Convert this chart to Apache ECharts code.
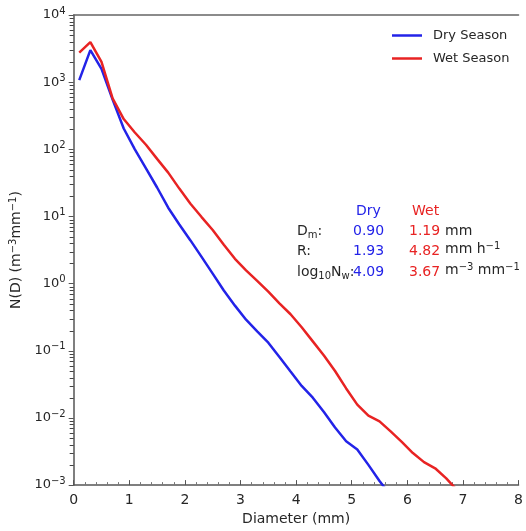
<!DOCTYPE html>
<html><head><meta charset="utf-8">
<script src="https://cdn.jsdelivr.net/npm/echarts@6/dist/echarts.min.js"></script>
<style>html,body{margin:0;padding:0;background:#fff}#c{width:526px;height:531px}</style>
</head><body><div id="c"></div>
<script>
const diameters = [0.1,0.3,0.5,0.7,0.9,1.1,1.3,1.5,1.7,1.9,2.1,2.3,2.5,2.7,2.9,3.1,3.3,3.5,3.7,3.9,4.1,4.3,4.5,4.7,4.9,5.1,5.3,5.5,5.7,5.9,6.1,6.3,6.5,6.7,6.9];
const drySeason = [1070,3000,1580,550,204,100,52,27,13.5,7.6,4.4,2.5,1.41,0.79,0.47,0.29,0.195,0.132,0.081,0.049,0.030,0.020,0.0123,0.0072,0.0045,0.0034,0.0020,0.00115,0.0007];
const wetSeason = [2750,3950,2000,575,282,178,117,72,45,26,15.5,9.8,6.3,3.8,2.34,1.58,1.10,0.76,0.51,0.35,0.224,0.138,0.085,0.050,0.0275,0.0158,0.0108,0.0089,0.0063,0.0044,0.0030,0.0022,0.00178,0.00126,0.00083];
const seriesNames = ['Dry Season','Wet Season'];
const yExp = {'0.001':'−3','0.01':'−2','0.1':'−1','1':'0','10':'1','100':'2','1000':'3','10000':'4'};
const yDecades = [0.001,0.01,0.1,1,10,100,1000];
const minorMultipliers = [2,3,4,5,6,7,8,9];
const stats = {labels:['D{sub|m}:','R:','log{sub|10}N{sub|w}:'], dry:['0.90','1.93','4.09'], wet:['1.19','4.82','3.67'], units:['mm','mm h{sup|−1}','m{sup|−3} mm{sup|−1}']};

const FONT = 'DejaVu Sans';
const BLUE = '#2323e8', RED = '#e82323', TXT = '#262626';
const pair = (xs, ys) => ys.map((v,i)=>[xs[i], v]);

const chart = echarts.init(document.getElementById('c'));
const rowsY = [233, 253, 274];
const graphics = [
  {type:'text', left:356, top:204, style:{text:'Dry', fill:BLUE, fontSize:14, fontFamily:FONT}},
  {type:'text', left:412, top:204, style:{text:'Wet', fill:RED, fontSize:14, fontFamily:FONT}}
];
stats.labels.forEach((l,i)=>{
  graphics.push({type:'text', left:297, top:rowsY[i]-9, style:{text:l, fill:TXT, fontSize:14, fontFamily:FONT,
    rich:{sub:{fontSize:10, fontFamily:FONT, fill:TXT, padding:[8,0,0,0]}}}});
  graphics.push({type:'text', left:353, top:rowsY[i]-9, style:{text:stats.dry[i], fill:BLUE, fontSize:14, fontFamily:FONT}});
  graphics.push({type:'text', left:409, top:rowsY[i]-9, style:{text:stats.wet[i], fill:RED, fontSize:14, fontFamily:FONT}});
  graphics.push({type:'text', left:445, top:rowsY[i]-9-(i>0?3:0), style:{text:stats.units[i], fill:TXT, fontSize:14, fontFamily:FONT,
    rich:{sup:{fontSize:10, fontFamily:FONT, fill:TXT, padding:[0,0,6,0]}}}});
});
chart.setOption({
  animation:false,
  textStyle:{fontFamily:FONT},
  grid:{left:67, right:0, top:15, bottom:42},
  legend:{
    orient:'vertical', left:387, top:23, icon:'rect', itemWidth:30, itemHeight:2.5, itemGap:8,
    data:seriesNames, textStyle:{fontSize:13, color:TXT, fontFamily:FONT, padding:[0,0,0,6], lineHeight:15}
  },
  xAxis:[{
    type:'value', min:0, max:8, interval:1, position:'bottom',
    name:'Diameter (mm)', nameLocation:'middle', nameGap:22,
    nameTextStyle:{fontSize:14, color:TXT, fontFamily:FONT},
    axisLine:{lineStyle:{color:'#555', width:1.5}},
    axisTick:{inside:true, length:5, lineStyle:{color:'#555'}},
    minorTick:{show:true, splitNumber:5, length:3, lineStyle:{color:'#777'}},
    axisLabel:{fontSize:14, color:TXT, margin:8, fontFamily:FONT},
    splitLine:{show:false}
  },{
    type:'value', min:0, max:8, position:'top',
    axisLine:{onZero:false, lineStyle:{color:'#666', width:1.5}},
    axisTick:{show:false}, axisLabel:{show:false}, splitLine:{show:false}
  }],
  yAxis:{
    type:'log', logBase:10, min:0.001, max:10000, interval:1,
    name:'N(D) (m{sup|−3}mm{sup|−1})', nameLocation:'middle', nameGap:40,
    nameTextStyle:{fontSize:14, color:TXT, fontFamily:FONT, rich:{sup:{fontSize:10, fontFamily:FONT, color:TXT, padding:[0,0,7,0]}}},
    axisLine:{show:true, lineStyle:{color:'#555', width:1.5}},
    axisTick:{inside:false, length:5, lineStyle:{color:'#555'}},
    axisLabel:{fontSize:13, color:TXT, margin:8, fontFamily:FONT,
      formatter:v=>{const k = String(+v.toPrecision(3)); return '10{sup|'+(yExp[k]!==undefined?yExp[k]:'')+'}';},
      rich:{sup:{fontSize:10, fontFamily:FONT, color:TXT, padding:[0,0,8,0]}}},
    splitLine:{show:false}
  },
  series:[
    {name:seriesNames[0], type:'line', data:pair(diameters, drySeason), showSymbol:false, symbol:'none', clip:true,
     lineStyle:{color:BLUE, width:2.5}, itemStyle:{color:BLUE}},
    {name:seriesNames[1], type:'line', data:pair(diameters, wetSeason), showSymbol:false, symbol:'none', clip:true,
     lineStyle:{color:RED, width:2.5}, itemStyle:{color:RED}}
  ]
});
// log-axis minor ticks (2..9 per decade), positioned through the axis scale
const tickEls = [];
yDecades.forEach(d=>minorMultipliers.forEach(m=>{
  const v = +(d*m).toPrecision(3);
  const py = chart.convertToPixel({yAxisIndex:0}, v);
  const px = chart.convertToPixel({xAxisIndex:0}, 0);
  tickEls.push({type:'line', silent:true, z:100, shape:{x1:px-4, y1:Math.round(py)+0.5, x2:px, y2:Math.round(py)+0.5}, style:{stroke:'#444', lineWidth:1}});
}));
chart.setOption({graphic:{elements:graphics.concat(tickEls)}});
</script></body></html>
